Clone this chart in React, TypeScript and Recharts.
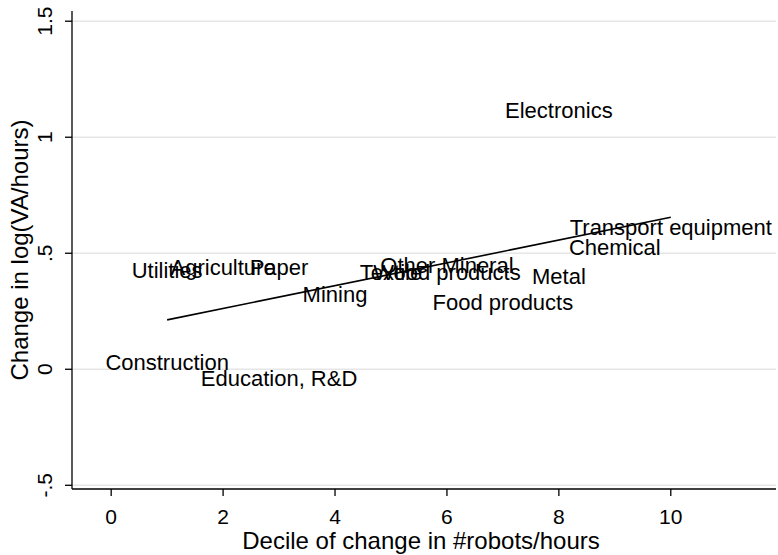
import { ScatterChart, Scatter, XAxis, YAxis, CartesianGrid, Label } from "recharts";

// industry labels, their robot-decile and change in log(VA/hours)
const industries = [
  "Utilities",
  "Construction",
  "Agriculture",
  "Paper",
  "Education, R&D",
  "Mining",
  "Textile",
  "Wood products",
  "Other Mineral",
  "Food products",
  "Electronics",
  "Metal",
  "Chemical",
  "Transport equipment",
];
const deciles = [1, 1, 2, 3, 3, 4, 5, 6, 6, 7, 8, 8, 9, 10];
const changes = [
  0.427, 0.031, 0.441, 0.441, -0.037, 0.322, 0.419, 0.419, 0.45, 0.291, 1.116,
  0.401, 0.527, 0.613,
];

// fitted line end points
const fitX = [1, 10];
const fitY = [0.213, 0.655];

const xTicks = [0, 2, 4, 6, 8, 10];
const yTicks = [-0.5, 0, 0.5, 1, 1.5];

const points = industries.map((name, i) => ({ name, x: deciles[i], y: changes[i] }));
const fitLine = fitX.map((x, i) => ({ x, y: fitY[i] }));

const FONT = '"Liberation Sans", Arial, Helvetica, sans-serif';

const fmtY = (v: number) => {
  if (v === 0) return "0";
  const s = String(v);
  return s.replace(/^(-?)0\./, "$1.");
};

const YTick = ({ x, y, payload }: any) => (
  <text
    transform={`translate(${x - 13},${y}) rotate(-90)`}
    textAnchor="middle"
    fontSize={21}
    fill="#000"
    fontFamily={FONT}
  >
    {fmtY(payload.value)}
  </text>
);

const NameMark = ({ cx, cy, payload }: any) => (
  <text
    x={cx}
    y={cy}
    dy="0.36em"
    textAnchor="middle"
    fontSize={22}
    fill="#000"
    fontFamily={FONT}
  >
    {payload.name}
  </text>
);

export default function App() {
  return (
    <div style={{ position: "absolute", left: 0, top: 0, background: "#fff" }}>
      <ScatterChart
        width={778}
        height={555}
        margin={{ top: 11, right: 2, bottom: 0, left: 0 }}
        style={{ fontFamily: FONT }}
      >
        <CartesianGrid
          vertical={false}
          horizontalValues={yTicks}
          stroke="#e6e6e6"
          strokeWidth={1.5}
        />
        <XAxis
          type="number"
          dataKey="x"
          domain={[-0.7, 11.88]}
          ticks={xTicks}
          height={66}
          tickSize={7}
          tickMargin={13}
          axisLine={{ stroke: "#000", strokeWidth: 1.3 }}
          tickLine={{ stroke: "#000", strokeWidth: 1.3 }}
          tick={{ fontSize: 21, fill: "#000", fontFamily: FONT }}
          allowDataOverflow
        >
          <Label
            content={({ viewBox }: any) => (
              <text
                x={viewBox.x + viewBox.width / 2 - 3}
                y={viewBox.y + 60}
                textAnchor="middle"
                fontSize={24}
                fill="#000"
                fontFamily={FONT}
              >
                Decile of change in #robots/hours
              </text>
            )}
          />
        </XAxis>
        <YAxis
          type="number"
          dataKey="y"
          domain={[-0.516, 1.544]}
          ticks={yTicks}
          width={72}
          tickSize={7}
          tickMargin={0}
          axisLine={{ stroke: "#000", strokeWidth: 1.3 }}
          tickLine={{ stroke: "#000", strokeWidth: 1.3 }}
          tick={<YTick />}
          allowDataOverflow
        >
          <Label
            content={({ viewBox }: any) => (
              <text
                transform={`translate(28,${viewBox.y + viewBox.height / 2}) rotate(-90)`}
                textAnchor="middle"
                fontSize={24}
                fill="#000"
                fontFamily={FONT}
              >
                Change in log(VA/hours)
              </text>
            )}
          />
        </YAxis>
        <Scatter
          data={points}
          shape={<NameMark />}
          isAnimationActive={false}
        />
        <Scatter
          data={fitLine}
          line={{ stroke: "#000", strokeWidth: 1.6 }}
          shape={() => <g />}
          isAnimationActive={false}
        />
      </ScatterChart>
    </div>
  );
}
